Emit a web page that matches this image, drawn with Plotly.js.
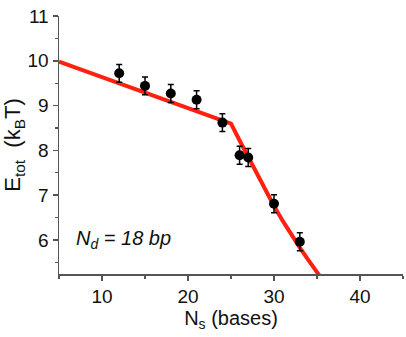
<!DOCTYPE html>
<html><head><meta charset="utf-8">
<script src="https://cdn.plot.ly/plotly-3.0.1.min.js"></script>
<style>html,body{margin:0;padding:0;background:#fff}</style>
</head><body><div id="chart" style="width:406px;height:337px"></div>
<script>
// measured points
const ns = [12, 15, 18, 21, 24, 26, 27, 30, 33];
const etot = [9.72, 9.44, 9.27, 9.13, 8.62, 7.89, 7.84, 6.81, 5.96];
const errs = [0.2, 0.2, 0.2, 0.2, 0.2, 0.2, 0.2, 0.2, 0.2];
// model curve
const fitX = [5, 25, 26, 27, 28, 29, 30, 31, 32, 33, 34, 35, 35.6];
const fitY = [9.98, 8.6, 8.22, 7.85, 7.48, 7.12, 6.76, 6.43, 6.12, 5.83, 5.55, 5.28, 5.12];

const axisColor = '#555';
const data = [
  {x: fitX, y: fitY, mode: 'lines', line: {color: '#ff2010', width: 4}, hoverinfo: 'skip'},
  {x: ns, y: etot, mode: 'markers', marker: {color: '#000', size: 10},
   error_y: {type: 'data', array: errs, visible: true, color: '#000', thickness: 1.5, width: 3}}
];
const font = {family: 'Liberation Sans, Arial, sans-serif', color: '#111'};
const layout = {
  width: 406, height: 337,
  margin: {l: 59, r: 3, t: 16, b: 63},
  paper_bgcolor: '#fff', plot_bgcolor: '#fff',
  showlegend: false,
  font: font,
  xaxis: {
    range: [5, 45], tick0: 0, dtick: 10, showgrid: false, zeroline: false,
    showline: true, linecolor: axisColor, linewidth: 1.5,
    ticks: 'outside', ticklen: 5, tickcolor: axisColor, tickwidth: 1.5,
    minor: {dtick: 5, tick0: 0, ticks: 'outside', ticklen: 3, tickcolor: axisColor, tickwidth: 1.2},
    tickfont: {size: 19, family: font.family, color: '#111'},
    title: {text: 'N<sub>s</sub> (bases)', font: {size: 20, family: font.family, color: '#111'}, standoff: 2}
  },
  yaxis: {
    range: [5.24, 11], tick0: 0, dtick: 1, showgrid: false, zeroline: false,
    showline: true, linecolor: axisColor, linewidth: 1.5,
    ticks: 'outside', ticklen: 5, tickcolor: axisColor, tickwidth: 1.5,
    minor: {dtick: 0.5, tick0: 0, ticks: 'outside', ticklen: 3, tickcolor: axisColor, tickwidth: 1.2},
    tickfont: {size: 19, family: font.family, color: '#111'},
    title: {text: 'E<sub>tot</sub>  (k<sub>B</sub>T)', font: {size: 22, family: font.family, color: '#111'}, standoff: 4}
  },
  annotations: [{
    x: 6.8, y: 6.0, xref: 'x', yref: 'y', xanchor: 'left', yanchor: 'middle',
    text: '<i>N<sub>d</sub> = 18 bp</i>', showarrow: false,
    font: {size: 20, family: font.family, color: '#111'}
  }]
};
Plotly.newPlot('chart', data, layout, {displayModeBar: false, staticPlot: true});
</script></body></html>
